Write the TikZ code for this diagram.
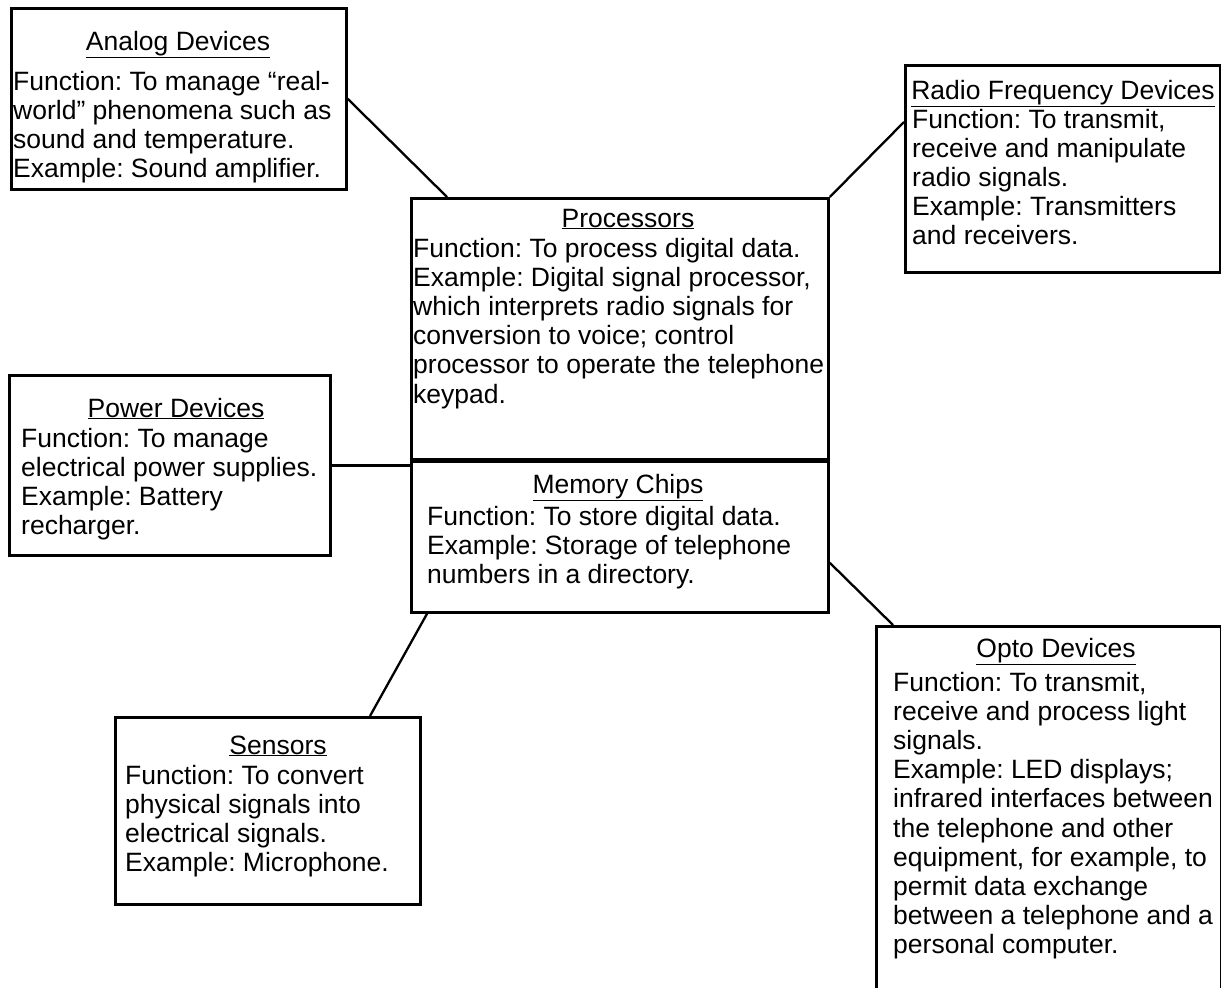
\documentclass[tikz,border=0pt]{standalone}
\usepackage{fontspec}
\setmainfont{Liberation Sans}
\usetikzlibrary{calc}

\frenchspacing
\newcommand{\devfont}{\fontsize{26.5pt}{29.2pt}\selectfont}
\newcommand{\devlines}[1]{\begin{tabular}[t]{@{}l@{}}#1\end{tabular}}

\tikzset{
    devbox/.style={draw, line width=2.8pt, anchor=north west, inner sep=0pt},
    devtitle/.style={anchor=base, inner sep=0pt, font=\devfont},
    devtext/.style={anchor=base west, inner sep=0pt, font=\devfont},
    link/.style={line width=2.3pt}
}

\begin{document}
\begin{tikzpicture}[x=1pt, y=-1pt]

    % Page frame, same size as the reference
    \fill[white] (0,0) rectangle (1221,988);
    \useasboundingbox (0,0) rectangle (1221,988);

    % Boxes of the device families
    \node[devbox, minimum width=335pt, minimum height=181pt] (analog) at (10,7) {};
    \node[devbox, minimum width=315pt, minimum height=207pt] (rf) at (904,64) {};
    \node[devbox, minimum width=417pt, minimum height=261pt] (proc) at (410,197) {};
    \node[devbox, minimum width=417pt, minimum height=151pt] (mem) at (410,460) {};
    \node[devbox, minimum width=321pt, minimum height=180pt] (power) at (8,374) {};
    \node[devbox, minimum width=305pt, minimum height=187pt] (sens) at (114,716) {};
    % the opto box runs off the bottom of the page
    \node[devbox, minimum width=345pt, minimum height=400pt] (opto) at (875,625) {};

    % Connectors
    \draw[link] (analog.east) -- ($(proc.north west)+(37,0)$);
    \draw[link] (proc.north east) -- ($(rf.north west)+(0,58)$);
    \draw[link] (power.east) -- (power.east -| proc.west);
    \draw[link] ($(mem.south west)+(17,0)$) -- ($(sens.north west)+(256,0)$);
    \draw[link] ($(mem.south east)+(0,-51)$) -- ($(opto.north west)+(18,0)$);

    % Analog devices
    \node[devtitle] (analogtitle) at (178,50) {\underline{Analog Devices}};
    \node[devtext] (analogtext) at (13,90) {\devlines{Function: To manage “real-\\
        world” phenomena such as\\
        sound and temperature.\\
        Example: Sound amplifier.}};

    % Radio frequency devices
    \node[devtitle] (rftitle) at (1063,99) {\underline{Radio Frequency Devices}};
    \node[devtext] (rftext) at (912,128) {\devlines{Function: To transmit,\\
        receive and manipulate\\
        radio signals.\\
        Example: Transmitters\\
        and receivers.}};

    % Processors
    \node[devtitle] (proctitle) at (628,227) {\underline{Processors}};
    \node[devtext] (proctext) at (413,257) {\devlines{Function: To process digital data.\\
        Example: Digital signal processor,\\
        which interprets radio signals for\\
        conversion to voice; control\\
        processor to operate the telephone\\
        keypad.}};

    % Memory chips
    \node[devtitle] (memtitle) at (618,493) {\underline{Memory Chips}};
    \node[devtext] (memtext) at (427,525) {\devlines{Function: To store digital data.\\
        Example: Storage of telephone\\
        numbers in a directory.}};

    % Power devices
    \node[devtitle] (powertitle) at (176,417) {\underline{Power Devices}};
    \node[devtext] (powertext) at (21,447) {\devlines{Function: To manage\\
        electrical power supplies.\\
        Example: Battery\\
        recharger.}};

    % Sensors
    \node[devtitle] (senstitle) at (278,754) {\underline{Sensors}};
    \node[devtext] (senstext) at (125,784) {\devlines{Function: To convert\\
        physical signals into\\
        electrical signals.\\
        Example: Microphone.}};

    % Opto devices
    \node[devtitle] (optotitle) at (1056,657) {\underline{Opto Devices}};
    \node[devtext] (optotext) at (893,691) {\devlines{Function: To transmit,\\
        receive and process light\\
        signals.\\
        Example: LED displays;\\
        infrared interfaces between\\
        the telephone and other\\
        equipment, for example, to\\
        permit data exchange\\
        between a telephone and a\\
        personal computer.}};

\end{tikzpicture}
\end{document}
